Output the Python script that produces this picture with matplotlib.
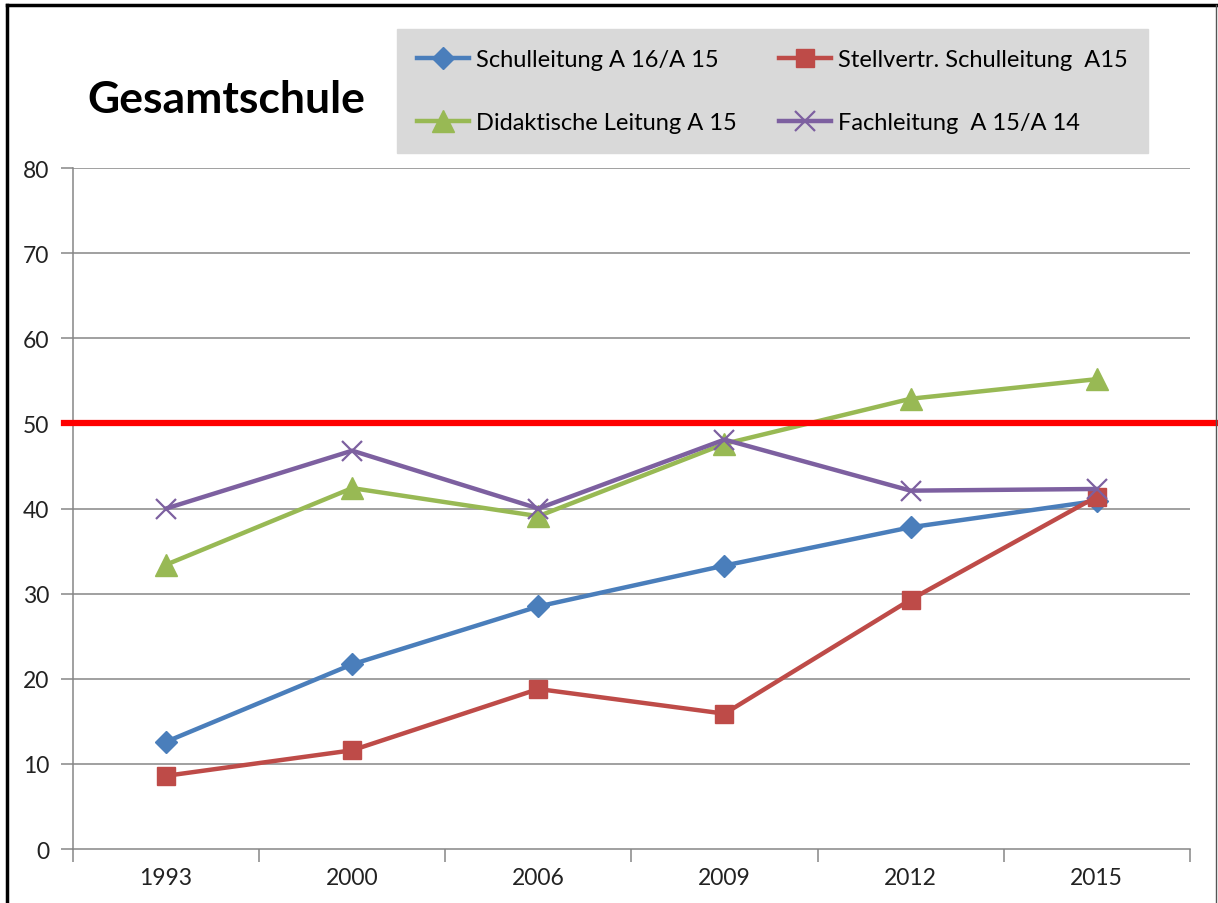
import numpy as np
import matplotlib.pyplot as plt
from matplotlib.lines import Line2D

plt.rcParams['font.family'] = ['Lato', 'DejaVu Sans']

years = ["1993", "2000", "2006", "2009", "2012", "2015"]
schulleitung = [12.6, 21.7, 28.5, 33.3, 37.8, 40.9]
stellvertr = [8.6, 11.6, 18.8, 15.9, 29.3, 41.4]
didaktisch = [33.4, 42.4, 39.1, 47.6, 52.9, 55.2]
fachleitung = [40.0, 46.8, 40.0, 48.1, 42.1, 42.3]
labels = ["Schulleitung A 16/A 15", "Stellvertr. Schulleitung  A15",
          "Didaktische Leitung A 15", "Fachleitung  A 15/A 14"]
threshold = 50

fig = plt.figure(figsize=(12.18, 9.04), dpi=100)
ax = fig.add_axes([0.0599, 0.0597, 0.917, 0.7533])

x = np.arange(len(years))
grid_c = "#868686"
for yv in range(10, 90, 10):
    ax.axhline(yv, color=grid_c, lw=1.1, zorder=1)

styles = [
    dict(color="#4a7ebb", marker="D", ms=11),
    dict(color="#be4b48", marker="s", ms=13),
    dict(color="#98b954", marker="^", ms=16),
    dict(color="#7d60a0", marker="x", ms=15, mew=1.6),
]
series = [schulleitung, stellvertr, didaktisch, fachleitung]
for vals, st in zip(series, styles):
    ax.plot(x, vals, lw=3.2, zorder=3, **st)

ax.axhline(threshold, xmin=-0.008, xmax=1.03, color="#ff0000", lw=4.5,
           clip_on=False, zorder=5)

ax.set_xlim(-0.5, len(years) - 0.5)
ax.set_ylim(0, 80)
ax.set_yticks(range(0, 90, 10))
ax.set_xticks(np.arange(-0.5, len(years), 1.0))
ax.set_xticklabels([])
ax.set_xticks(x, minor=True)
ax.set_xticklabels(years, minor=True)
ax.tick_params(axis="x", which="major", direction="out", length=9, color=grid_c, width=1.1)
ax.tick_params(axis="x", which="minor", length=0, pad=13, labelsize=16.5, labelcolor="#222222")
ax.tick_params(axis="y", direction="out", length=9, color=grid_c, width=1.1,
               labelsize=16.5, labelcolor="#222222", pad=8)
for s in ["top", "right"]:
    ax.spines[s].set_visible(False)
for s in ["left", "bottom"]:
    ax.spines[s].set_color(grid_c)
    ax.spines[s].set_linewidth(1.1)

fig.text(0.072, 0.889, "Gesamtschule", fontsize=32, fontweight="bold", va="center")

handles = [Line2D([], [], lw=3.2, **st) for st in styles]
order = [0, 2, 1, 3]
leg = fig.legend([handles[i] for i in order], [labels[i] for i in order],
                 ncol=2, loc="upper left", bbox_to_anchor=(0.326, 0.967),
                 fontsize=17, frameon=True, fancybox=False, facecolor="#d9d9d9",
                 edgecolor="#d9d9d9", framealpha=1, handlelength=2.2,
                 handletextpad=0.3, columnspacing=1.8, labelspacing=1.8,
                 borderpad=0.85, borderaxespad=0)

# outer frame
fig.add_artist(Line2D([0.006, 0.006], [0, 0.993], color="black", lw=2.5))
fig.add_artist(Line2D([0.006, 1.0], [0.993, 0.993], color="black", lw=2.5))
fig.add_artist(Line2D([0.9985, 0.9985], [0, 0.993], color="#555555", lw=1))

fig.savefig("out.png", dpi=100)
